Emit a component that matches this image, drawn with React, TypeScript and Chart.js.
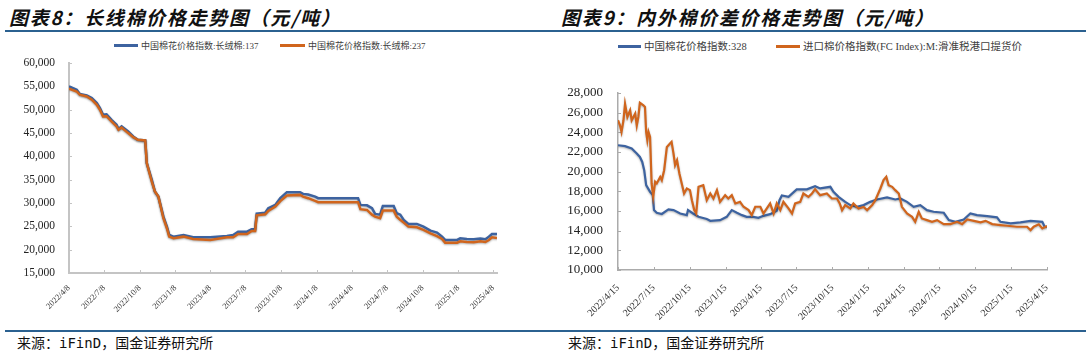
import React, { useEffect, useRef } from 'react';
import { Chart, registerables } from 'chart.js';

Chart.register(...registerables);

// ---------- 图表8：长绒棉价格（元/吨） ----------
const longStapleDates = [
  '2022-04-08', '2022-04-28', '2022-05-06', '2022-05-24', '2022-06-06', '2022-06-19', '2022-06-27',
  '2022-07-05', '2022-07-14', '2022-07-27', '2022-08-09', '2022-08-14', '2022-08-22', '2022-09-08',
  '2022-09-21', '2022-10-03', '2022-10-22', '2022-10-26', '2022-11-08', '2022-11-16', '2022-11-25',
  '2022-12-08', '2022-12-17', '2022-12-23', '2023-01-03', '2023-01-29', '2023-02-23', '2023-04-08',
  '2023-05-21', '2023-06-06', '2023-06-19', '2023-07-12', '2023-07-24', '2023-08-02', '2023-08-06',
  '2023-08-28', '2023-09-05', '2023-09-23', '2023-10-06', '2023-10-23', '2023-11-26', '2023-12-04',
  '2023-12-17', '2024-01-04', '2024-01-12', '2024-04-24', '2024-04-30', '2024-05-17', '2024-05-30',
  '2024-06-07', '2024-06-20', '2024-06-27', '2024-07-25', '2024-08-02', '2024-08-11', '2024-08-20',
  '2024-09-01', '2024-09-23', '2024-10-10', '2024-10-28', '2024-11-14', '2024-11-27', '2024-12-05',
  '2025-01-05', '2025-01-13', '2025-01-30', '2025-02-17', '2025-03-06', '2025-03-19', '2025-03-28',
  '2025-04-05', '2025-04-18',
];
const longStaple137 = [
  55000, 54270, 53350, 53050, 52490, 51400, 50340,
  48900, 49000, 47830, 46760, 45840, 46400, 45320,
  44250, 43540, 43400, 38540, 34960, 32450, 31370,
  27080, 24940, 23150, 22790, 23150, 22660, 22650,
  22940, 23150, 23860, 23860, 24370, 24370, 27700,
  27900, 28880, 29590, 31030, 32320, 32320, 31950,
  31800, 31370, 31030, 31030, 29590, 29500, 28880,
  27660, 27500, 29380, 29380, 27800, 27500, 26370,
  25520, 25520, 24940, 24080, 23650, 22790, 22080,
  22080, 22440, 22300, 22230, 22370, 22230, 22790,
  23370, 23370,
];
const longStaple237 = [
  54500, 53900, 53200, 52840, 52130, 51050, 49980,
  48550, 48600, 47470, 46400, 45690, 46180, 44980,
  44120, 43540, 43400, 38540, 34600, 32450, 31370,
  26730, 24590, 22790, 22440, 22790, 22300, 22080,
  22650, 22650, 23370, 23370, 24010, 24010, 27350,
  27580, 28300, 29230, 30400, 31600, 31740, 31370,
  31030, 30450, 30170, 30170, 28670, 28520, 27500,
  27080, 26730, 28380, 28380, 27080, 26400, 25800,
  24940, 24800, 24230, 23500, 22900, 22300, 21500,
  21500, 21800, 21650, 21580, 21800, 21650, 22080,
  22650, 22500,
];
const longStapleTickLabels = [
  '2022/4/8', '2022/7/8', '2022/10/8', '2023/1/8', '2023/4/8', '2023/7/8', '2023/10/8',
  '2024/1/8', '2024/4/8', '2024/7/8', '2024/10/8', '2025/1/8', '2025/4/8',
];

// ---------- 图表9：内外棉价差（元/吨） ----------
const domesticDates = [
  '2022-04-15', '2022-05-03', '2022-05-20', '2022-06-02', '2022-06-10', '2022-06-16', '2022-06-21',
  '2022-06-26', '2022-07-06', '2022-07-13', '2022-07-16', '2022-07-23', '2022-08-05', '2022-08-22',
  '2022-09-04', '2022-09-21', '2022-10-08', '2022-10-11', '2022-10-24', '2022-11-07', '2022-11-28',
  '2022-12-07', '2023-01-01', '2023-01-18', '2023-01-31', '2023-02-13', '2023-02-26', '2023-03-10',
  '2023-03-27', '2023-04-09', '2023-04-22', '2023-05-09', '2023-05-26', '2023-06-02', '2023-06-08',
  '2023-06-25', '2023-07-16', '2023-08-11', '2023-09-01', '2023-09-14', '2023-10-10', '2023-10-18',
  '2023-10-31', '2023-11-17', '2023-11-30', '2023-12-17', '2024-01-03', '2024-01-20', '2024-02-06',
  '2024-03-03', '2024-03-24', '2024-04-06', '2024-04-23', '2024-05-10', '2024-05-27', '2024-06-13',
  '2024-06-30', '2024-07-26', '2024-08-08', '2024-08-25', '2024-09-15', '2024-10-02', '2024-10-19',
  '2024-11-14', '2024-12-09', '2024-12-18', '2025-01-13', '2025-02-07', '2025-03-05', '2025-04-04',
  '2025-04-10', '2025-04-16',
];
const domestic328 = [
  22690, 22590, 22350, 21840, 21500, 20990, 20150,
  18630, 17950, 17610, 16090, 15820, 15700, 16160,
  16090, 15750, 15580, 16090, 15750, 15410, 15180,
  15000, 15070, 15410, 16090, 15820, 15580, 15410,
  15410, 15310, 15510, 15680, 16020, 17100, 17580,
  17440, 18190, 18200, 18530, 18300, 18460, 17950,
  17440, 16930, 16600, 16420, 16600, 16930, 17170,
  17380, 17170, 17270, 16930, 16420, 16600, 16090,
  15920, 15820, 15080, 14900, 15140, 15750, 15580,
  15480, 15350, 14900, 14740, 14840, 15000, 14900,
  14400, 14400,
];
const importDates = [
  '2022-04-15', '2022-04-20', '2022-04-24', '2022-04-29', '2022-05-03', '2022-05-09', '2022-05-16',
  '2022-05-20', '2022-05-29', '2022-06-02', '2022-06-06', '2022-06-10', '2022-06-19', '2022-06-23',
  '2022-06-26', '2022-06-29', '2022-07-02', '2022-07-06', '2022-07-10', '2022-07-14', '2022-07-19',
  '2022-07-23', '2022-08-01', '2022-08-05', '2022-08-11', '2022-08-18', '2022-08-26', '2022-08-30',
  '2022-09-04', '2022-09-08', '2022-09-13', '2022-09-19', '2022-09-25', '2022-10-01', '2022-10-08',
  '2022-10-16', '2022-10-21', '2022-10-27', '2022-11-01', '2022-11-07', '2022-11-19', '2022-11-24',
  '2022-11-28', '2022-12-07', '2022-12-15', '2022-12-24', '2023-01-01', '2023-01-14', '2023-01-22',
  '2023-01-31', '2023-02-09', '2023-02-21', '2023-03-02', '2023-03-15', '2023-03-23', '2023-04-01',
  '2023-04-14', '2023-04-22', '2023-05-09', '2023-05-18', '2023-05-26', '2023-06-04', '2023-06-12',
  '2023-06-25', '2023-07-04', '2023-07-12', '2023-07-25', '2023-08-02', '2023-08-15', '2023-08-24',
  '2023-09-01', '2023-09-14', '2023-10-01', '2023-10-14', '2023-10-27', '2023-11-03', '2023-11-09',
  '2023-11-17', '2023-11-30', '2023-12-08', '2023-12-21', '2024-01-03', '2024-01-12', '2024-01-25',
  '2024-02-02', '2024-02-15', '2024-02-23', '2024-03-01', '2024-03-07', '2024-03-16', '2024-03-24',
  '2024-04-02', '2024-04-10', '2024-04-23', '2024-05-06', '2024-05-14', '2024-05-23', '2024-05-31',
  '2024-06-13', '2024-06-26', '2024-07-09', '2024-07-26', '2024-08-12', '2024-08-29', '2024-09-11',
  '2024-09-24', '2024-10-11', '2024-10-28', '2024-11-10', '2024-11-27', '2024-12-18', '2025-01-04',
  '2025-01-29', '2025-02-24', '2025-03-05', '2025-03-13', '2025-03-26', '2025-04-04', '2025-04-16',
];
const importFC = [
  25230, 24720, 24040, 25230, 26900, 25560, 26240,
  25230, 25900, 24700, 25560, 27000, 26750, 26580,
  24040, 23200, 24040, 23530, 18800, 17440, 18970,
  18800, 19470, 19140, 20150, 22520, 22860, 23030,
  21840, 20660, 21160, 19810, 18800, 17780, 18290,
  18120, 17100, 16090, 15750, 18460, 18630, 17780,
  17100, 17780, 17270, 18120, 16930, 17610, 17270,
  17610, 16770, 16930, 16430, 16090, 15580, 16430,
  16430, 15750, 16770, 15750, 16770, 16090, 16930,
  16260, 15750, 16770, 16930, 17780, 17440, 17780,
  18220, 17610, 17780, 17270, 17270, 16770, 16090,
  16600, 16260, 16770, 16260, 16420, 16090, 16600,
  17100, 18290, 19140, 19470, 18630, 18460, 18120,
  17780, 16420, 15750, 15410, 14900, 15920, 15240,
  15070, 14900, 15070, 14670, 14670, 14900, 14670,
  15140, 15000, 14840, 15000, 14670, 14570, 14500,
  14400, 14400, 14060, 14400, 14640, 14230, 14470,
];
const spreadTickLabels = [
  '2022/4/15', '2022/7/15', '2022/10/15', '2023/1/15', '2023/4/15', '2023/7/15', '2023/10/15',
  '2024/1/15', '2024/4/15', '2024/7/15', '2024/10/15', '2025/1/15', '2025/4/15',
];

// ---------- helpers ----------
const dayNum = (s: string) => {
  const [y, m, d] = s.split(/[-/]/).map(Number);
  return Date.UTC(y, m - 1, d) / 86400000;
};
const toPoints = (dates: string[], values: number[], start: string) =>
  dates.map((d, i) => ({ x: dayNum(d) - dayNum(start), y: values[i] }));

const BLUE = '#3D63A0';
const ORANGE = '#D0651D';

const innerTicks = {
  id: 'innerTicks',
  beforeDatasetsDraw(chart: any, _args: any, opts: any) {
    const { ctx, chartArea } = chart;
    const xs = chart.scales.x;
    const ys = chart.scales.y;
    ctx.save();
    ctx.strokeStyle = opts.color;
    ctx.lineWidth = 1;
    xs.ticks.forEach((t: any) => {
      const px = Math.round(xs.getPixelForValue(t.value)) + 0.5;
      ctx.beginPath();
      ctx.moveTo(px, chartArea.bottom);
      ctx.lineTo(px, chartArea.bottom - opts.len);
      ctx.stroke();
    });
    ys.ticks.forEach((t: any) => {
      const py = Math.round(ys.getPixelForValue(t.value)) + 0.5;
      ctx.beginPath();
      ctx.moveTo(chartArea.left, py);
      ctx.lineTo(chartArea.left + opts.len, py);
      ctx.stroke();
    });
    ctx.restore();
  },
};

const glow = {
  id: 'glow',
  beforeDatasetDraw(chart: any) {
    const c = chart.ctx;
    c.save();
    c.shadowColor = 'rgba(0,0,0,0.3)';
    c.shadowBlur = 2;
    c.shadowOffsetY = 1;
  },
  afterDatasetDraw(chart: any) {
    chart.ctx.restore();
  },
};

type Spec = {
  series: { label: string; points: { x: number; y: number }[]; color: string; order: number }[];
  tickLabels: string[];
  start: string;
  xMax: number;
  yMin: number;
  yMax: number;
  yStep: number;
  yWidth: number;
  xHeight: number;
  padTop: number;
  padRight: number;
  yFont: number;
  xFont: number;
  yPad: number;
  xPad: number;
  axisColor: string;
  axisWidth: number;
  lineWidth: number;
};

function makeConfig(s: Spec): any {
  const tickVals = s.tickLabels.map((l) => dayNum(l) - dayNum(s.start));
  return {
    type: 'line',
    data: {
      datasets: s.series.map((d) => ({
        label: d.label,
        data: d.points,
        borderColor: d.color,
        backgroundColor: d.color,
        borderWidth: s.lineWidth,
        pointRadius: 0,
        tension: 0,
        fill: false,
        order: d.order,
      })),
    },
    options: {
      responsive: false,
      animation: false,
      events: [],
      parsing: false,
      layout: { padding: { top: s.padTop, right: s.padRight, left: 0, bottom: 0 } },
      plugins: {
        legend: { display: false },
        tooltip: { enabled: false },
        innerTicks: { color: s.axisColor, len: 3 },
      },
      scales: {
        x: {
          type: 'linear',
          min: 0,
          max: s.xMax,
          grid: { display: false },
          border: { display: true, color: s.axisColor, width: s.axisWidth },
          afterBuildTicks: (scale: any) => {
            scale.ticks = tickVals.map((v) => ({ value: v }));
          },
          afterFit: (scale: any) => {
            scale.height = s.xHeight;
          },
          ticks: {
            autoSkip: false,
            minRotation: 45,
            maxRotation: 45,
            padding: s.xPad,
            color: '#333',
            font: { family: '"Liberation Serif", "Times New Roman", serif', size: s.xFont },
            callback: (_v: any, i: number) => s.tickLabels[i],
          },
        },
        y: {
          type: 'linear',
          min: s.yMin,
          max: s.yMax,
          // invisible tick marks provide the gap between labels and axis
          grid: {
            display: true,
            drawOnChartArea: false,
            drawTicks: true,
            tickLength: s.yPad,
            color: 'rgba(0,0,0,0)',
            tickColor: 'rgba(0,0,0,0)',
          },
          border: { display: true, color: s.axisColor, width: s.axisWidth },
          afterFit: (scale: any) => {
            scale.width = s.yWidth;
          },
          ticks: {
            stepSize: s.yStep,
            padding: 0,
            color: '#222',
            font: { family: '"Liberation Serif", "Times New Roman", serif', size: s.yFont },
            callback: (v: any) => Number(v).toLocaleString('en-US'),
          },
        },
      },
    },
    plugins: [innerTicks, glow],
  };
}

function ChartBox(props: { left: number; top: number; width: number; height: number; spec: Spec }) {
  const ref = useRef<HTMLCanvasElement | null>(null);
  useEffect(() => {
    if (!ref.current) return;
    const chart = new Chart(ref.current, makeConfig(props.spec));
    return () => chart.destroy();
  }, []);
  return (
    <canvas
      ref={ref}
      width={props.width}
      height={props.height}
      style={{ position: 'absolute', left: props.left, top: props.top, width: props.width, height: props.height }}
    />
  );
}

const leftSpec: Spec = {
  series: [
    { label: '中国棉花价格指数:长绒棉:137', points: toPoints(longStapleDates, longStaple137, longStapleDates[0]), color: BLUE, order: 2 },
    { label: '中国棉花价格指数:长绒棉:237', points: toPoints(longStapleDates, longStaple237, longStapleDates[0]), color: ORANGE, order: 1 },
  ],
  tickLabels: longStapleTickLabels,
  start: longStapleDates[0],
  xMax: dayNum(longStapleDates[longStapleDates.length - 1]) - dayNum(longStapleDates[0]),
  yMin: 15000,
  yMax: 60000,
  yStep: 5000,
  yWidth: 69,
  xHeight: 47,
  padTop: 13,
  padRight: 43,
  yFont: 11.5,
  xFont: 8.5,
  yPad: 14,
  xPad: 2,
  axisColor: '#C4C4C4',
  axisWidth: 2,
  lineWidth: 2.5,
};

const rightSpec: Spec = {
  series: [
    { label: '中国棉花价格指数:328', points: toPoints(domesticDates, domestic328, domesticDates[0]), color: BLUE, order: 2 },
    { label: '进口棉价格指数(FC Index):M:滑准税港口提货价', points: toPoints(importDates, importFC, domesticDates[0]), color: ORANGE, order: 1 },
  ],
  tickLabels: spreadTickLabels,
  start: domesticDates[0],
  xMax: dayNum(importDates[importDates.length - 1]) - dayNum(domesticDates[0]),
  yMin: 10000,
  yMax: 28000,
  yStep: 2000,
  yWidth: 78,
  xHeight: 50,
  padTop: 43,
  padRight: 39,
  yFont: 13,
  xFont: 10,
  yPad: 15,
  xPad: 4,
  axisColor: '#ABABAB',
  axisWidth: 1.5,
  lineWidth: 2.2,
};

const titleStyle = (left: number): React.CSSProperties => ({
  position: 'absolute',
  left,
  top: 6,
  fontFamily: '"Noto Sans CJK SC", sans-serif',
  fontWeight: 700,
  fontStyle: 'italic',
  fontSize: 19,
  letterSpacing: 1.7,
  lineHeight: '22px',
  color: '#111',
  whiteSpace: 'nowrap',
});

const footStyle = (left: number): React.CSSProperties => ({
  position: 'absolute',
  left,
  top: 334,
  fontFamily: '"DejaVu Sans Mono", "Noto Sans CJK SC", monospace',
  fontSize: 14,
  lineHeight: '18px',
  color: '#111',
  whiteSpace: 'nowrap',
});

function LegendItem(props: { x: number; y: number; len: number; color: string; text: string; size: number }) {
  return (
    <>
      <div
        style={{
          position: 'absolute',
          left: props.x,
          top: props.y - 1.25,
          width: props.len,
          height: 2.5,
          background: props.color,
        }}
      />
      <div
        style={{
          position: 'absolute',
          left: props.x + props.len + 3,
          top: props.y - 8,
          height: 16,
          lineHeight: '16px',
          fontFamily: '"Liberation Serif", "Noto Sans CJK SC", serif',
          fontSize: props.size,
          color: '#404040',
          whiteSpace: 'nowrap',
        }}
      >
        {props.text}
      </div>
    </>
  );
}

export default function App() {
  return (
    <div
      style={{
        position: 'absolute',
        left: 0,
        top: 0,
        width: 1086,
        height: 354,
        background: '#fff',
        overflow: 'hidden',
      }}
    >
      <div style={titleStyle(9)}>图表8：长线棉价格走势图（元/吨）</div>
      <div style={titleStyle(561)}>图表9：内外棉价差价格走势图（元/吨）</div>
      <div style={{ position: 'absolute', left: 5, top: 29.5, width: 1081, height: 2, background: '#2B6190' }} />

      <LegendItem x={114} y={45.5} len={24} color={BLUE} text={leftSpec.series[0].label} size={9} />
      <LegendItem x={280} y={45.5} len={25} color={ORANGE} text={leftSpec.series[1].label} size={9} />
      <LegendItem x={618} y={46.5} len={23} color={BLUE} text={rightSpec.series[0].label} size={10.5} />
      <LegendItem x={776} y={46.5} len={24} color={ORANGE} text={rightSpec.series[1].label} size={10.5} />

      <ChartBox left={0} top={50} width={540} height={270} spec={leftSpec} />
      <ChartBox left={540} top={50} width={546} height={270} spec={rightSpec} />

      <div style={{ position: 'absolute', left: 5, top: 330, width: 1081, height: 2, background: '#2B6190' }} />
      <div style={footStyle(17)}>来源：iFinD，国金证券研究所</div>
      <div style={footStyle(568)}>来源：iFinD，国金证券研究所</div>
    </div>
  );
}
